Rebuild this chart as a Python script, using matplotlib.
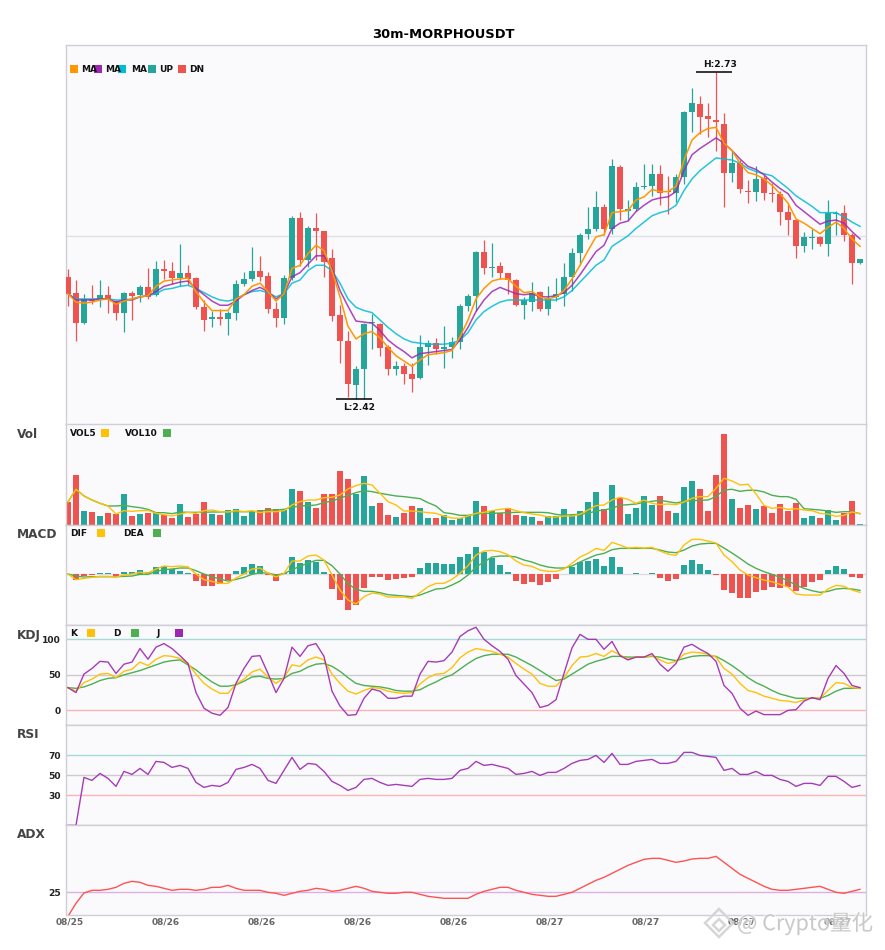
import matplotlib
matplotlib.use("Agg")
import matplotlib.pyplot as plt
import matplotlib.patheffects as pe
from matplotlib.patches import Rectangle, Polygon
import numpy as np

opens = [2.535,2.520,2.491,2.514,2.513,2.518,2.512,2.501,2.520,2.518,
         2.525,2.518,2.542,2.541,2.534,2.539,2.534,2.506,2.495,2.497,
         2.495,2.501,2.528,2.533,2.541,2.536,2.504,2.496,2.534,2.591,
         2.551,2.581,2.579,2.553,2.499,2.474,2.432,2.447,2.491,2.490,
         2.468,2.447,2.450,2.443,2.439,2.468,2.472,2.466,2.468,2.473,
         2.507,2.517,2.559,2.543,2.545,2.539,2.532,2.508,2.511,2.521,
         2.504,2.516,2.519,2.535,2.558,2.576,2.580,2.601,2.580,2.639,
         2.598,2.599,2.620,2.621,2.633,2.617,2.615,2.630,2.692,2.699,
         2.688,2.684,2.680,2.634,2.643,2.617,2.616,2.629,2.615,2.614,
         2.597,2.589,2.564,2.572,2.573,2.566,2.595,2.596,2.575,2.548]
highs = [2.542,2.532,2.519,2.527,2.532,2.526,2.513,2.521,2.522,2.527,
         2.543,2.550,2.551,2.549,2.566,2.546,2.535,2.513,2.503,2.504,
         2.503,2.532,2.540,2.563,2.555,2.540,2.511,2.537,2.593,2.597,
         2.583,2.596,2.579,2.561,2.508,2.484,2.450,2.491,2.500,2.491,
         2.470,2.455,2.453,2.453,2.480,2.475,2.477,2.488,2.478,2.509,
         2.519,2.560,2.570,2.567,2.549,2.539,2.533,2.516,2.530,2.522,
         2.526,2.534,2.548,2.562,2.577,2.601,2.617,2.604,2.647,2.641,
         2.608,2.625,2.642,2.642,2.641,2.631,2.633,2.693,2.714,2.707,
         2.700,2.730,2.691,2.655,2.646,2.627,2.640,2.632,2.624,2.617,
         2.605,2.589,2.578,2.580,2.574,2.608,2.598,2.603,2.577,2.552]
lows = [2.507,2.474,2.490,2.509,2.506,2.501,2.494,2.483,2.494,2.511,
        2.514,2.517,2.533,2.528,2.526,2.527,2.504,2.484,2.487,2.489,
        2.480,2.494,2.526,2.531,2.531,2.501,2.487,2.490,2.532,2.545,
        2.544,2.551,2.535,2.493,2.453,2.421,2.419,2.419,2.466,2.460,
        2.442,2.442,2.433,2.426,2.438,2.451,2.462,2.448,2.458,2.466,
        2.503,2.503,2.538,2.535,2.533,2.519,2.507,2.495,2.503,2.503,
        2.499,2.512,2.507,2.522,2.546,2.571,2.579,2.575,2.576,2.589,
        2.589,2.598,2.618,2.612,2.603,2.595,2.606,2.623,2.673,2.671,
        2.668,2.655,2.601,2.625,2.615,2.605,2.607,2.608,2.606,2.584,
        2.575,2.553,2.559,2.561,2.564,2.555,2.575,2.569,2.528,2.547]
closes = [2.519,2.491,2.514,2.512,2.518,2.514,2.501,2.520,2.517,2.525,
          2.516,2.542,2.541,2.534,2.539,2.533,2.506,2.494,2.497,2.495,
          2.501,2.528,2.533,2.541,2.535,2.504,2.496,2.534,2.591,2.551,
          2.581,2.579,2.549,2.498,2.474,2.433,2.447,2.490,2.492,2.467,
          2.447,2.450,2.443,2.438,2.468,2.472,2.466,2.468,2.473,2.507,
          2.517,2.559,2.543,2.544,2.539,2.532,2.508,2.513,2.520,2.504,
          2.515,2.519,2.535,2.558,2.575,2.580,2.601,2.580,2.640,2.599,
          2.599,2.620,2.621,2.633,2.615,2.616,2.630,2.692,2.700,2.687,
          2.685,2.682,2.634,2.643,2.618,2.616,2.628,2.615,2.614,2.597,
          2.589,2.564,2.573,2.573,2.566,2.596,2.596,2.575,2.548,2.552]

ma_fast = [2.519,2.511,2.510,2.511,2.513,2.514,2.509,2.512,2.514,2.516,
           2.517,2.526,2.531,2.532,2.533,2.534,2.521,2.511,2.503,2.503,
           2.503,2.514,2.518,2.526,2.529,2.521,2.512,2.519,2.543,2.546,
           2.557,2.565,2.560,2.541,2.516,2.488,2.476,2.481,2.483,2.477,
           2.468,2.460,2.455,2.450,2.456,2.461,2.462,2.463,2.465,2.478,
           2.494,2.514,2.524,2.531,2.533,2.533,2.526,2.520,2.521,2.516,
           2.514,2.516,2.522,2.533,2.546,2.560,2.573,2.575,2.596,2.597,
           2.598,2.608,2.611,2.618,2.616,2.616,2.621,2.646,2.665,2.672,
           2.676,2.677,2.662,2.655,2.643,2.634,2.632,2.628,2.622,2.614,
           2.605,2.590,2.586,2.581,2.576,2.582,2.587,2.581,2.571,2.564]
ma_mid = [2.519,2.513,2.513,2.513,2.514,2.514,2.511,2.513,2.513,2.516,
          2.517,2.521,2.526,2.528,2.530,2.531,2.524,2.518,2.512,2.508,
          2.508,2.512,2.518,2.522,2.525,2.521,2.514,2.519,2.535,2.539,
          2.547,2.555,2.555,2.543,2.522,2.507,2.493,2.492,2.491,2.484,
          2.475,2.469,2.464,2.458,2.462,2.463,2.464,2.465,2.466,2.475,
          2.487,2.502,2.513,2.521,2.525,2.522,2.519,2.518,2.519,2.516,
          2.516,2.517,2.520,2.527,2.537,2.548,2.559,2.565,2.581,2.586,
          2.588,2.597,2.603,2.608,2.610,2.611,2.616,2.636,2.651,2.657,
          2.662,2.667,2.662,2.655,2.647,2.640,2.637,2.632,2.625,2.619,
          2.614,2.603,2.597,2.591,2.585,2.588,2.589,2.586,2.578,2.571]
ma_slow = [2.519,2.514,2.514,2.514,2.514,2.514,2.513,2.513,2.514,2.516,
           2.517,2.519,2.523,2.524,2.526,2.527,2.524,2.520,2.516,2.513,
           2.512,2.514,2.518,2.521,2.522,2.520,2.516,2.519,2.529,2.532,
           2.541,2.546,2.546,2.541,2.529,2.514,2.506,2.503,2.501,2.494,
           2.487,2.481,2.476,2.473,2.472,2.471,2.471,2.471,2.472,2.475,
           2.482,2.494,2.502,2.507,2.511,2.513,2.513,2.513,2.513,2.513,
           2.513,2.513,2.516,2.522,2.530,2.538,2.546,2.551,2.564,2.569,
           2.574,2.581,2.587,2.593,2.596,2.598,2.603,2.617,2.628,2.636,
           2.642,2.648,2.647,2.646,2.643,2.638,2.635,2.633,2.631,2.625,
           2.619,2.612,2.607,2.602,2.596,2.596,2.596,2.592,2.587,2.583]

volume = [68,149,41,38,26,35,32,92,26,32,35,38,29,20,62,23,32,68,32,29,
          44,47,26,41,44,50,47,44,107,101,68,50,92,92,161,137,92,146,56,65,
          29,23,35,56,50,20,20,29,14,20,29,71,56,41,35,50,29,26,23,11,
          26,26,47,29,41,68,98,47,119,80,32,50,86,59,86,41,35,113,131,107,
          41,149,272,77,50,59,47,56,35,62,41,65,20,26,20,44,14,35,71,2]
vol5 = [68,106,86,74,64,56,32,42,40,42,43,34,30,26,32,37,34,42,44,39,
        38,42,39,42,36,39,39,42,59,69,74,74,81,82,89,107,117,124,119,94,
        69,59,41,41,39,36,34,26,20,19,26,34,37,42,46,49,42,36,32,29,
        23,23,26,26,31,44,57,59,74,82,76,64,74,64,60,62,60,68,79,84,
        84,109,139,131,119,121,92,58,49,52,46,48,44,42,34,32,25,28,38,33]
vol10 = [68,106,86,74,64,56,56,58,54,51,46,36,36,33,38,37,37,37,38,38,
         39,39,39,39,40,44,44,46,52,56,57,59,66,71,79,88,96,102,99,94,
         90,86,84,81,78,66,56,36,33,28,28,32,34,34,35,36,37,37,37,37,
         36,31,28,30,31,34,41,44,49,58,60,62,67,70,73,69,65,70,72,73,
         74,84,104,106,100,103,103,98,88,84,84,76,48,46,44,41,37,39,39,33]

macd_hist = [0,-17,-6,-3,2,2,-6,6,6,12,6,21,24,15,9,3,-21,-36,-36,-29,
             -18,9,21,30,24,-3,-21,3,51,33,42,36,6,-45,-78,-108,-93,-42,-9,-9,
             -18,-15,-12,-9,18,33,33,30,30,51,60,81,66,48,27,6,-21,-30,-24,-33,
             -24,-15,0,21,36,39,45,24,51,21,0,3,0,3,-12,-21,-15,27,42,30,
             12,-3,-48,-57,-72,-72,-54,-48,-39,-42,-39,-51,-39,-24,-18,12,24,15,-9,-12]
dif = [0,-17,-13,-10,-7,-7,-9,-3,0,5,3,15,24,22,24,22,0,-17,-22,-28,
       -28,-12,0,15,18,3,-9,2,39,39,54,57,42,-3,-48,-78,-90,-68,-57,-60,
       -69,-69,-69,-73,-56,-38,-28,-28,-16,2,25,57,69,71,67,58,39,27,23,12,
       8,8,15,32,51,62,77,71,95,87,78,80,78,80,69,60,56,87,104,104,
       99,93,57,37,12,-3,-11,-18,-23,-31,-39,-60,-63,-63,-63,-45,-34,-37,-48,-55]
dea = [0,-6,-9,-8,-8,-8,-8,-7,-6,-1,-1,8,13,15,18,18,10,0,-8,-15,
       -21,-16,-10,-1,4,3,-3,1,13,23,33,41,41,25,0,-29,-46,-52,-52,-56,
       -62,-64,-66,-68,-63,-54,-45,-43,-33,-21,-3,21,36,51,54,54,51,42,36,27,
       21,18,18,24,36,47,57,62,73,77,77,77,77,77,72,66,64,72,84,90,
       92,92,78,63,47,30,17,7,-1,-10,-20,-33,-43,-50,-55,-52,-45,-43,-45,-49]

k_line = [32,27,39,44,51,52,46,55,58,68,63,72,77,76,73,66,51,38,30,24,
          24,37,44,54,58,47,38,46,64,62,71,75,71,51,38,27,23,28,32,31,
          27,25,24,25,37,46,51,52,60,74,82,87,85,83,79,75,66,58,51,38,
          34,34,46,63,75,76,80,76,84,78,72,75,75,77,71,66,69,79,82,81,
          79,75,59,51,38,28,25,20,17,14,13,11,15,18,17,28,39,38,32,31]
d_line = [32,31,33,37,42,45,46,50,53,56,60,64,68,70,71,64,57,48,40,34,
          34,36,41,47,48,45,44,45,52,55,61,65,66,62,55,46,38,35,34,33,
          31,28,27,27,29,35,40,46,50,58,66,73,77,79,79,79,75,69,63,56,
          49,42,44,51,58,65,69,72,76,76,75,75,75,76,75,72,70,73,76,77,
          77,76,70,63,55,46,39,34,28,23,20,17,17,17,17,21,27,31,31,31]
j_line = [32,25,51,59,69,68,52,65,68,87,72,89,94,87,77,66,25,3,-4,-7,
          4,38,59,76,77,52,25,45,89,76,91,94,76,27,6,-7,-6,17,30,27,
          17,17,20,20,51,69,68,70,82,104,112,117,100,91,83,72,49,37,25,4,
          7,15,52,88,107,100,100,86,97,77,71,75,75,80,65,55,66,89,93,86,
          80,69,35,24,3,-7,-1,-6,-6,-6,0,1,13,18,15,45,63,52,35,32]

rsi = [0,0,48,45,52,47,39,54,51,57,51,64,63,58,60,57,43,38,40,39,
       43,56,58,61,57,45,42,55,68,56,62,61,54,44,40,35,38,46,47,43,
       40,41,40,39,46,47,46,46,47,55,57,64,60,61,59,57,51,52,54,50,
       53,53,57,62,65,66,70,63,72,61,61,64,65,66,62,62,64,73,73,70,
       69,68,55,57,51,51,54,50,50,46,44,39,42,42,40,49,49,44,38,40]

adx = [10.6,18.4,24.6,26.2,26.2,26.8,28,30.4,31.6,31,29.2,28.6,27.4,26.2,26.8,26.8,26.2,26.8,28,28,
       29.2,27.4,26.2,26.2,26.2,25,24.4,23.2,24.4,25.6,26.2,27.4,26.8,25.6,26.2,27.4,28.6,27.4,25.6,25,
       24.4,24.4,25,25,23.8,22.6,22,21.4,21.4,21.4,21.4,23.8,25.6,26.8,28,28,26.2,25,23.8,23.2,
       22.6,22.6,23.8,25,27.4,29.8,32.2,34,36.4,38.8,41.2,43,44.8,45.4,45.4,44.2,43,43.8,45,45.4,
       45.4,46.6,43,39.4,35.8,33.4,31,28.6,26.8,26.2,26.2,26.8,27.4,28,28.6,26.8,25,24.4,25.6,26.8]

date_labels = ["08/25", "08/26", "08/26", "08/26", "08/26", "08/27", "08/27", "08/27", "08/27"]

W, H = 885, 950
UP, DN = "#26A69A", "#EF5350"
BG = "#FAFAFD"
YEL, GRN, PUR = "#FFC107", "#4CAF50", "#9C27B0"

plt.rcParams["font.family"] = ["DejaVu Sans", "Noto Sans CJK SC"]
plt.rcParams["font.weight"] = "bold"

x = np.arange(len(closes))
fig = plt.figure(figsize=(W / 100, H / 100), dpi=100)


def add_panel(top, bottom):
    ax = fig.add_axes([65.5 / W, 1 - bottom / H, 800.2 / W, (bottom - top) / H], facecolor=BG)
    ax.set_xlim(-0.31, 99.71)
    ax.set_xticks([])
    ax.set_yticks([])
    for s in ax.spines.values():
        s.set_color("#CFCFD8")
        s.set_linewidth(1)
    return ax


def square(px, py, color):
    fig.add_artist(Rectangle((px / W, 1 - (py + 8) / H), 8 / W, 8 / H, color=color,
                             transform=fig.transFigure, zorder=10, lw=0))


def label(px, py, s, size=6.5, color="#111111", ha="left"):
    fig.text(px / W, 1 - py / H, s, fontsize=size, color=color, ha=ha, va="center",
             fontweight="bold", zorder=11)


def level_lines(ax, levels, colors):
    for lv, c in zip(levels, colors):
        ax.axhline(lv, color=c, lw=1, zorder=1)
    ax.set_yticks(levels)
    ax.set_yticklabels([str(v) for v in levels], fontsize=6.6, fontweight="bold", color="#222222")
    ax.tick_params(axis="y", length=0, pad=3.5)


# Main candles
ax_main = add_panel(45, 424.5)
ax_main.set_ylim(2.3947, 2.7553)
ax_main.axhline(2.5738, color="#E0E0E8", lw=1, zorder=1)
opens_a, closes_a = np.array(opens), np.array(closes)
colors = [UP if c >= o else DN for o, c in zip(opens, closes)]
ax_main.vlines(x, lows, highs, colors=colors, lw=0.9, zorder=2, snap=True)
ax_main.bar(x, np.maximum(np.abs(closes_a - opens_a), 0.001), bottom=np.minimum(opens_a, closes_a),
            width=0.75, color=colors, zorder=3)
ax_main.plot(x, ma_slow, color="#00BCD4", lw=1.1, alpha=0.85, zorder=4)
ax_main.plot(x, ma_mid, color=PUR, lw=1.1, alpha=0.85, zorder=4)
ax_main.plot(x, ma_fast, color="#FF9800", lw=1.1, zorder=4)

hi = int(np.argmax(highs))
lo = int(np.argmin(lows))
ax_main.hlines(max(highs), hi - 2.5, hi + 2, color="black", lw=1.1, zorder=5)
ax_main.hlines(min(lows), lo - 2.5, lo + 2, color="black", lw=1.1, zorder=5)
ax_main.annotate("H:%.2f" % max(highs), (hi + 0.5, max(highs)), xytext=(0, 4.8), textcoords="offset points",
                 ha="center", va="center", fontsize=6.6, fontweight="bold", color="#111111")
ax_main.annotate("L:%.2f" % min(lows), (lo + 0.4, min(lows)), xytext=(0, -6), textcoords="offset points",
                 ha="center", va="center", fontsize=6.6, fontweight="bold", color="#111111")

fig.text(443 / W, 1 - 34 / H, "30m-MORPHOUSDT", fontsize=9.35, fontweight="bold",
         ha="center", va="center", color="black")

square(70, 65, "#FF9800")
label(81, 69, "MA")
square(94, 65, PUR)
label(105, 69, "MA")
square(118, 65, "#00BCD4")
label(131, 69, "MA")
square(148, 65, UP)
label(159, 69, "UP")
square(178, 65, DN)
label(189, 69, "DN")

# Volume
ax_vol = add_panel(424.5, 524.7)
ax_vol.set_ylim(0, 300)
ax_vol.bar(x, volume, width=0.75, color=colors, zorder=2)
ax_vol.plot(x, vol10, color=GRN, lw=1, zorder=3)
ax_vol.plot(x, vol5, color=YEL, lw=1, zorder=4)
label(17, 434.5, "Vol", 8.7, "#444444")
label(70, 433.5, "VOL5")
square(101, 429, YEL)
label(125, 433.5, "VOL10")
square(163, 429, GRN)

# MACD
ax_macd = add_panel(524.7, 624.7)
ax_macd.set_ylim(-152, 148)
ax_macd.axhline(0, color="#DDDDE2", lw=1, zorder=1)
ax_macd.bar(x, macd_hist, width=0.75, color=[UP if v >= 0 else DN for v in macd_hist], zorder=2)
ax_macd.plot(x, dea, color=GRN, lw=1, zorder=3)
ax_macd.plot(x, dif, color=YEL, lw=1, zorder=4)
label(17, 535, "MACD", 8.7, "#444444")
label(70, 534, "DIF")
square(97, 529, YEL)
label(123, 534, "DEA")
square(153, 529, GRN)

# KDJ
ax_kdj = add_panel(624.7, 724.7)
ax_kdj.set_ylim(-20.2, 120.6)
level_lines(ax_kdj, [100, 50, 0], ["#A8DAD6", "#CCCCCC", "#FFB4B4"])
ax_kdj.plot(x, d_line, color=GRN, lw=1, zorder=3)
ax_kdj.plot(x, k_line, color=YEL, lw=1, zorder=4)
ax_kdj.plot(x, j_line, color=PUR, lw=1, alpha=0.9, zorder=5)
label(17, 635, "KDJ", 8.7, "#444444")
label(70, 634, "K")
square(87, 629, YEL)
label(113, 634, "D")
square(131, 629, GRN)
label(156, 634, "J")
square(175, 629, PUR)

# RSI
ax_rsi = add_panel(724.7, 824.7)
ax_rsi.set_ylim(0.7, 100.7)
level_lines(ax_rsi, [70, 50, 30], ["#A8DAD6", "#CCCCCC", "#FFB4B4"])
ax_rsi.plot(x, rsi, color=PUR, lw=1, alpha=0.9, zorder=3)
label(17, 735, "RSI", 8.7, "#444444")

# ADX
ax_adx = add_panel(824.7, 915.3)
ax_adx.set_ylim(11.2, 65.6)
level_lines(ax_adx, [25], ["#DDB0E4"])
ax_adx.plot(x, adx, color="#FF5252", lw=1, zorder=3)
label(17, 835, "ADX", 8.7, "#444444")
ax_adx.set_xticks(np.arange(0, 100, 12)[:len(date_labels)] + 0.25)
ax_adx.set_xticklabels(date_labels, fontsize=6.5, fontweight="bold", color="#666666")
ax_adx.tick_params(axis="x", length=0, pad=1.8)

for ax in [ax_main, ax_vol, ax_macd, ax_kdj, ax_rsi]:
    ax.spines["bottom"].set_color("#B0B0B8")

# watermark
halo = [pe.withStroke(linewidth=2, foreground="white", alpha=0.5)]
for cx, cy, s in [(719, 923, 14), (719, 925, 6)]:
    pts = [(cx, cy - s), (cx + s, cy), (cx, cy + s), (cx - s, cy)]
    fig.add_artist(Polygon([(px / W, 1 - py / H) for px, py in pts], closed=True, fill=False,
                           ec="#CFCFCF", lw=1.8, alpha=0.85, transform=fig.transFigure, zorder=12,
                           path_effects=halo))
fig.text(737 / W, 1 - 924 / H, "@ Crypto量化", fontsize=15.5, fontweight="normal", color="#C4C4C4",
         alpha=0.85, family=["Noto Sans CJK SC", "DejaVu Sans"], ha="left", va="center", zorder=12,
         path_effects=halo)

fig.savefig("out.png", dpi=100)
